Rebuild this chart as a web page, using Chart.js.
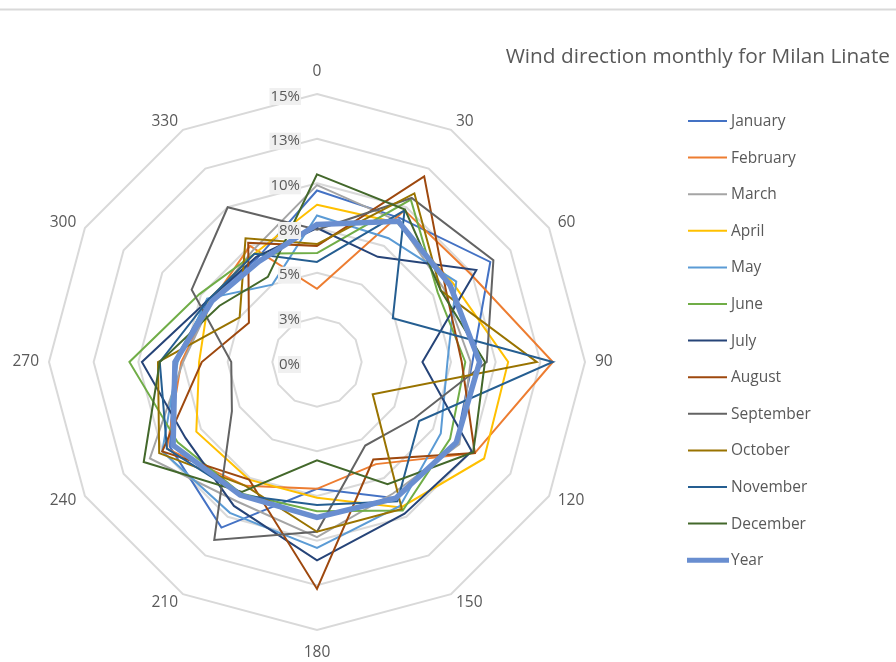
<!DOCTYPE html>
<html>
<head>
<meta charset="utf-8">
<title>Wind direction monthly for Milan Linate</title>
<script src="https://cdn.jsdelivr.net/npm/chart.js@4.4.1/dist/chart.umd.min.js"></script>
<style>
  html, body { margin: 0; padding: 0; background: #ffffff; }
  #wrap { width: 896px; height: 662px; position: relative; }
  canvas { display: block; }
</style>
</head>
<body>
<div id="wrap"><canvas id="chart" width="896" height="662"></canvas></div>
<script>
// Wind direction sectors (degrees)
const directions = ['0', '30', '60', '90', '120', '150', '180', '210', '240', '270', '300', '330'];

// Radial axis ticks (percent of observations) and their printed labels
const tickValues = [0, 2.5, 5, 7.5, 10, 12.5, 15];
const tickLabels = ['0%', '3%', '5%', '8%', '10%', '13%', '15%'];

// Share of hours per direction sector, in percent
const january   = [9.6, 9.3, 11.2, 8.7, 9.0, 8.8, 7.1, 10.7, 9.5, 8.0, 7.0, 6.7];
const february  = [4.1, 9.8, 9.9, 13.2, 10.2, 6.6, 7.1, 8.0, 9.7, 7.6, 6.8, 7.5];
const march     = [9.9, 9.1, 8.2, 8.6, 9.2, 8.5, 9.8, 9.0, 10.8, 7.5, 6.8, 7.2];
const april     = [8.8, 9.0, 8.8, 10.7, 10.8, 9.4, 7.6, 7.6, 7.8, 6.6, 7.0, 7.0];
const may       = [8.2, 8.0, 9.0, 7.3, 8.0, 9.3, 10.4, 9.75, 10.0, 7.8, 7.1, 5.0];
const june      = [6.1, 10.5, 7.8, 8.3, 8.6, 9.6, 8.35, 8.5, 9.0, 10.5, 7.6, 7.0];
const july      = [7.5, 6.8, 10.3, 5.9, 10.0, 9.8, 11.1, 9.3, 8.5, 9.8, 7.0, 6.8];
const august    = [6.5, 12.0, 8.3, 8.1, 10.2, 6.3, 12.7, 7.6, 10.0, 6.45, 4.4, 7.7];
const september = [7.4, 10.6, 11.4, 9.5, 6.3, 5.4, 9.5, 11.5, 5.5, 4.8, 8.1, 10.0];
const october   = [6.6, 10.9, 8.0, 12.3, 3.6, 9.5, 9.5, 8.0, 10.2, 8.9, 5.0, 8.0];
const november  = [5.6, 9.8, 4.9, 13.2, 6.6, 9.0, 8.0, 8.6, 9.7, 8.8, 7.0, 7.0];
const december  = [10.5, 9.85, 8.0, 9.4, 10.1, 7.9, 5.5, 8.4, 11.2, 8.8, 6.3, 5.5];
const year      = [7.7, 9.1, 8.6, 9.1, 9.0, 8.8, 8.7, 8.6, 9.3, 7.95, 6.8, 6.5];

const seriesNames = ['January', 'February', 'March', 'April', 'May', 'June', 'July',
                     'August', 'September', 'October', 'November', 'December', 'Year'];
const seriesValues = [january, february, march, april, may, june, july,
                      august, september, october, november, december, year];
const seriesColors = ['#4472C4', '#ED7D31', '#A5A5A5', '#FFC000', '#5B9BD5', '#70AD47',
                      '#264478', '#9E480E', '#636363', '#997300', '#255E91', '#43682B', '#698ED0'];

const chartTitle = 'Wind direction monthly for Milan Linate';

const FONT = '"Open Sans", "Noto Sans", "DejaVu Sans", sans-serif';
const TEXT_COLOR = '#595959';

const datasets = seriesNames.map((name, i) => ({
  label: name,
  data: seriesValues[i],
  borderColor: seriesColors[i],
  backgroundColor: seriesColors[i],
  borderWidth: name === 'Year' ? 5.5 : 2,
  fill: false,
  pointRadius: 0,
  pointHoverRadius: 0,
  tension: 0,
  order: seriesNames.length - i   // later series are painted on top
}));

// Frame line, axis text, title and legend
const decorations = {
  id: 'decorations',
  beforeDraw(chart) {
    const ctx = chart.ctx;
    ctx.save();
    ctx.fillStyle = '#ffffff';
    ctx.fillRect(0, 0, chart.width, chart.height);
    ctx.fillStyle = '#d9d9d9';
    ctx.fillRect(0, 8.5, chart.width, 2);
    ctx.restore();
  },
  afterDatasetsDraw(chart) {
    const ctx = chart.ctx;
    const r = chart.scales.r;
    ctx.save();

    // value labels beside the vertical axis
    ctx.font = '15px ' + FONT;
    ctx.textAlign = 'right';
    ctx.textBaseline = 'middle';
    tickValues.forEach((v, i) => {
      const y = r.yCenter - r.getDistanceFromCenterForValue(v) + 2.5;
      const x = r.xCenter - 17;
      const w = ctx.measureText(tickLabels[i]).width;
      ctx.fillStyle = '#f0f0f0';
      ctx.fillRect(x - w - 1, y - 8.5, w + 2, 17);
      ctx.fillStyle = TEXT_COLOR;
      ctx.fillText(tickLabels[i], x, y);
    });

    // direction labels: anchored just outside the outer ring,
    // left side right-aligned, right side left-aligned
    ctx.font = '15.5px ' + FONT;
    directions.forEach((d, i) => {
      const p = r.getPointPosition(i, r.drawingArea + 10);
      const deg = Number(d);
      let y = p.y;
      if (deg === 0) { ctx.textAlign = 'center'; y -= 12.5; }
      else if (deg === 180) { ctx.textAlign = 'center'; y += 12.5; }
      else if (deg < 180) { ctx.textAlign = 'left'; }
      else { ctx.textAlign = 'right'; }
      ctx.fillText(d, p.x, y);
    });

    ctx.restore();
  },
  afterDraw(chart) {
    const ctx = chart.ctx;
    ctx.save();
    ctx.fillStyle = TEXT_COLOR;
    ctx.textBaseline = 'middle';

    // title
    ctx.font = '20.8px ' + FONT;
    ctx.textAlign = 'right';
    ctx.fillText(chartTitle, 890, 57);

    // legend
    ctx.font = '15.5px ' + FONT;
    ctx.textAlign = 'left';
    seriesNames.forEach((name, i) => {
      const y = 121 + i * 36.6;
      ctx.strokeStyle = seriesColors[i];
      ctx.lineWidth = name === 'Year' ? 5 : 2;
      ctx.beginPath();
      if (name === 'Year') { ctx.moveTo(687, y); ctx.lineTo(729, y); }
      else { ctx.moveTo(688, y); ctx.lineTo(727, y); }
      ctx.stroke();
      ctx.fillText(name, 731, y + 0.5);
    });
    ctx.restore();
  }
};

new Chart(document.getElementById('chart'), {
  type: 'radar',
  data: { labels: directions, datasets },
  options: {
    responsive: false,
    animation: false,
    devicePixelRatio: 1,
    layout: { padding: { left: 49, right: 311, top: 94, bottom: 32 } },
    plugins: {
      legend: { display: false },
      title: { display: false },
      tooltip: { enabled: false }
    },
    scales: {
      r: {
        min: 0,
        max: 15,
        ticks: { stepSize: 2.5, display: false },
        grid: { circular: false, color: '#d9d9d9', lineWidth: 2 },
        angleLines: { display: false },
        pointLabels: { display: false }
      }
    }
  },
  plugins: [decorations]
});
</script>
</body>
</html>
